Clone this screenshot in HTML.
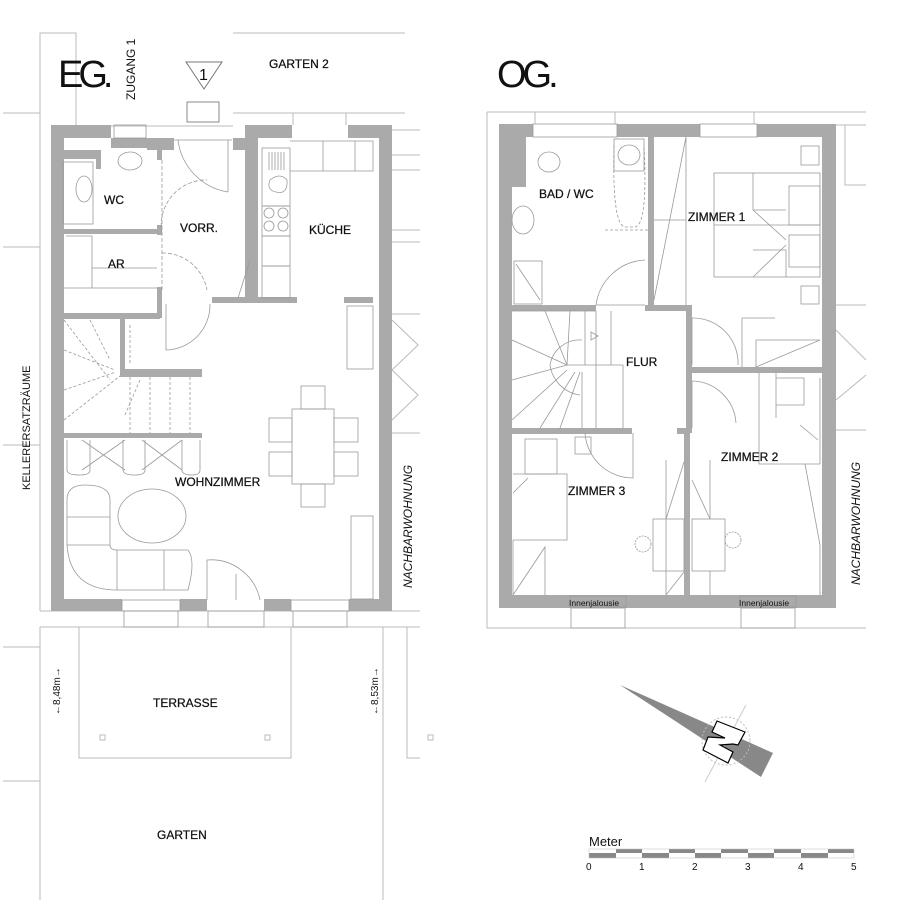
<!DOCTYPE html>
<html><head><meta charset="utf-8"><style>
html,body{margin:0;padding:0;background:#fff}
svg{display:block}
text{font-family:"Liberation Sans",sans-serif;fill:#111}
.l{font-size:12px;stroke:#111;stroke-width:0.25}
</style></head><body>
<svg width="900" height="900" viewBox="0 0 900 900" xmlns="http://www.w3.org/2000/svg">
<g fill="none" stroke="#bbb" stroke-width="1">
<path d="M40 110 V33 H76 V126 H233"/>
<path d="M233 33 H405 M233 113 H405 M3 113 H40 M293 113 V125 M346 113 V125"/>
<path d="M3 247 H40 M3 445 H40 M40 110 V611 M40 611 H420"/>
<path d="M40 627 V900 M383 627 V900 M3 647 H40 M3 781 H40 M40 771 V781"/>
<path d="M79 627 V758 H291 V627 M40 627 H420"/>
<path d="M407 627 V758 H420"/>
<rect x="100" y="735" width="5" height="5"/><rect x="265" y="735" width="5" height="5"/><rect x="428" y="735" width="5" height="5"/>
<path d="M392 130 H420 M392 155 H420 M392 170 H420 M392 230 H420 M392 242 H420 M392 314 H420 M392 433 H420"/>
<path d="M392 320 L418 345 L392 370 L418 395 L392 420"/>
<path d="M487 112 V628 H866 M487 112 H866 M535 112 V124 M615 112 V124 M754 112 V124"/>
<path d="M836 125 H866 M845 125 V185 H866 M836 305 H866 M836 430 H866 M836 330 L866 360 M836 400 L866 375"/>
</g>
<g fill="#aaa">
<rect x="51" y="125" width="13" height="486"/>
<rect x="51" y="599" width="71" height="12"/>
<rect x="180" y="599" width="27" height="12"/>
<rect x="264" y="599" width="27" height="12"/>
<rect x="349" y="599" width="43" height="12"/>
<rect x="379" y="125" width="13" height="486"/>
<rect x="51" y="125" width="60" height="13"/>
<rect x="111" y="138" width="36" height="10"/>
<rect x="147" y="138" width="27" height="12"/>
<rect x="233" y="138" width="14" height="12"/>
<rect x="245" y="125" width="47" height="13"/>
<rect x="348" y="125" width="44" height="13"/>
<rect x="245" y="125" width="13" height="173"/>
<rect x="64" y="150" width="37" height="9"/><rect x="96" y="150" width="5" height="19"/>
<rect x="64" y="229" width="96" height="5"/>
<rect x="157" y="150" width="5" height="10"/><rect x="157" y="225" width="5" height="10"/><rect x="157" y="287" width="5" height="15"/>
<rect x="64" y="313" width="96" height="6"/><rect x="157" y="298" width="5" height="20"/>
<rect x="212" y="297" width="85" height="6"/><rect x="344" y="297" width="29" height="6"/>
<rect x="120" y="319" width="5" height="55"/>
<rect x="120" y="369" width="82" height="8"/>
<rect x="64" y="433" width="138" height="5"/>
</g>
<g fill="none" stroke="#999" stroke-width="0.8">
<rect x="114" y="125" width="32" height="13"/>
<rect x="63" y="162" width="30" height="62"/>
<ellipse cx="84" cy="189" rx="8" ry="13"/><ellipse cx="130" cy="161" rx="12" ry="9"/>
<path d="M174 140 H232 M178 140 A60 60 0 0 0 228 192 M228 140 V192"/>
<path d="M162 233 A45 45 0 0 1 207 180 M162 253 A45 45 0 0 1 207 290 M162 160 V290" stroke-dasharray="4 2"/>
<path d="M66 236 H92 V288 H157 M92 268 H157 M64 288 H157"/>
<rect x="262" y="148" width="28" height="58"/><path d="M269 152 V170 M272 152 V170 M275 152 V170 M278 152 V170 M281 152 V170 M284 152 V170"/>
<path d="M270 180 Q280 172 287 180 Q288 195 276 192 Q266 190 270 180Z"/>
<rect x="262" y="206" width="28" height="30"/>
<circle cx="269" cy="213" r="5"/><circle cx="283" cy="213" r="5"/><circle cx="269" cy="226" r="5"/><circle cx="283" cy="226" r="5"/>
<rect x="262" y="236" width="28" height="30"/><rect x="262" y="266" width="28" height="32"/>
<path d="M290 141 H373 V171 H290 M323 141 V171 M355 141 V171"/>
<path d="M250 260 L238 298" />
<rect x="347" y="306" width="26" height="63"/>
<rect x="351" y="516" width="22" height="83"/>
<path d="M166 304 V350 A45 45 0 0 0 210 304" />
<path d="M207 600 V560 A50 50 0 0 1 260 600 M236 574 V600"/>
<rect x="122" y="600" width="58" height="11"/><rect x="291" y="600" width="58" height="11"/>
<rect x="124" y="611" width="54" height="16"/><rect x="293" y="611" width="54" height="16"/>
<rect x="208" y="611" width="56" height="16"/>
<rect x="292" y="409" width="42" height="75"/>
<rect x="301" y="386" width="24" height="23"/><rect x="301" y="484" width="24" height="23"/>
<rect x="269" y="418" width="23" height="24"/><rect x="269" y="452" width="23" height="24"/>
<rect x="334" y="418" width="24" height="24"/><rect x="334" y="452" width="24" height="24"/>
<path d="M67 440 V470 Q67 475 80 475 Q90 475 90 470 V440 M123 440 V470 Q123 475 135 475 Q145 475 145 470 V440 M182 440 V470 Q182 475 192 475 Q200 475 200 470 V440 M82 440 L125 470 M82 470 L125 440 M142 440 L182 470 M142 470 L182 440"/>
<ellipse cx="152" cy="516" rx="34" ry="27"/>
<path d="M67 500 Q67 485 85 485 Q110 485 110 500 V545 Q110 550 117 550 H188 Q196 560 188 590 H117 Q70 590 67 545 Z M67 517 H110 M67 545 H110 M117 550 V590 M164 550 V590"/>
<path d="M64 320 L110 380 M64 350 L115 370 M64 390 L116 372 M64 420 L120 376 M90 320 L110 360 M130 325 V365 M130 377 V433 M150 377 V433 M170 377 V433 M190 377 V433 M125 415 L140 380" stroke-dasharray="3 2"/>
</g>
<g fill="#aaa">
<rect x="499" y="124" width="13" height="484"/>
<rect x="822" y="124" width="14" height="484"/>
<rect x="499" y="124" width="34" height="13"/><rect x="617" y="124" width="83" height="13"/><rect x="757" y="124" width="79" height="13"/>
<rect x="499" y="595" width="337" height="13"/>
<rect x="512" y="137" width="14" height="50"/>
<rect x="648" y="137" width="6" height="168"/>
<rect x="512" y="305" width="84" height="6"/><rect x="645" y="305" width="47" height="6"/>
<rect x="686" y="305" width="6" height="128"/>
<rect x="692" y="367" width="135" height="6"/>
<rect x="512" y="428" width="120" height="6"/><rect x="677" y="428" width="13" height="6"/>
<rect x="684" y="433" width="6" height="162"/>
</g>
<g fill="none" stroke="#999" stroke-width="0.8">
<rect x="533" y="124" width="84" height="13"/><rect x="700" y="124" width="57" height="13"/>
<rect x="570" y="596" width="56" height="11"/><rect x="740" y="596" width="56" height="11"/>
<rect x="571" y="608" width="54" height="20"/><rect x="741" y="608" width="54" height="20"/>
<ellipse cx="549" cy="162" rx="11" ry="10"/>
<rect x="614" y="139" width="30" height="32"/><ellipse cx="629" cy="155" rx="11" ry="10"/>
<path d="M614 145 Q612 225 625 227 H635 Q648 225 644 145" stroke-dasharray="3 2"/>
<path d="M605 230 H648" stroke-dasharray="3 2"/>
<ellipse cx="523" cy="220" rx="11" ry="14"/>
<rect x="514" y="261" width="28" height="43"/><path d="M516 264 L540 300"/>
<path d="M596 305 A52 52 0 0 1 645 260 M596 305 H645"/>
<path d="M654 300 L686 137 M654 220 H686 M686 137 V305"/>
<rect x="714" y="173" width="106" height="104"/><path d="M714 225 H820 M753 173 V210 H786 M753 210 L786 240 M753 250 H786 V277 M753 277 L786 245"/>
<rect x="789" y="186" width="31" height="39"/><rect x="789" y="235" width="31" height="32"/>
<rect x="801" y="146" width="18" height="19"/><rect x="801" y="286" width="18" height="18"/>
<path d="M742 367 V318 H775 M756 367 V340 H820 M756 367 L820 340"/>
<path d="M692 318 A45 45 0 0 1 738 365 M692 381 A45 45 0 0 1 736 423"/>
<path d="M692 318 V365 M692 381 V428"/>
<path d="M512 311 H596 M596 311 V428 M567 365 H623 V428 M611 365 V311 M512 340 L567 365 M512 380 L567 365 M512 420 L567 370 M545 311 L567 365 M570 311 L567 365 M585 311 L585 365 M540 428 L575 372 M560 428 L580 372 M582 428 V372"/>
<path d="M582 340 A30 30 0 0 0 550 365 A35 35 0 0 0 580 395"/>
<path d="M591 340 L598 336 L591 332Z"/>
<rect x="525" y="439" width="32" height="35"/><rect x="575" y="437" width="16" height="17"/>
<path d="M513 474 H567 V540 H513 M513 493 L528 478 M513 540 V595 M513 595 L545 547 V595"/>
<path d="M633 433 V478 A48 48 0 0 1 585 433"/>
<rect x="653" y="519" width="31" height="52"/><rect x="692" y="519" width="33" height="52"/>
<path d="M666 460 V595 M666 519 L684 462 M666 595 L684 572 M710 460 V519 L692 480 M710 571 V595"/>
<path d="M759 373 V464 H820 V378 M776 373 V418 M776 378 H804 V405 H776 M800 425 L818 440 M805 464 L820 545 V595"/>
<circle cx="643" cy="544" r="8" stroke-dasharray="2 1"/><circle cx="733" cy="540" r="8" stroke-dasharray="2 1"/>
</g>
<polygon points="620,685 773,753 761,777" fill="#888"/>
<circle cx="726" cy="741" r="24" fill="none" stroke="#bbb" stroke-dasharray="2 2"/>
<path d="M746 705 L705 782" stroke="#ccc"/>
<path d="M717 721 L745 732 L738 745 L733 744 L720 745 L733 752 L728 763 L703 750 L708 737 L725 738 L712 732Z" fill="#fff" stroke="#000" stroke-width="1.2"/>
<g fill="#888">
<rect x="589" y="853" width="27" height="5"/><rect x="616" y="849" width="26" height="4"/>
<rect x="642" y="853" width="27" height="5"/><rect x="669" y="849" width="26" height="4"/>
<rect x="695" y="853" width="26" height="5"/><rect x="721" y="849" width="27" height="4"/>
<rect x="748" y="853" width="26" height="5"/><rect x="774" y="849" width="27" height="4"/>
<rect x="801" y="853" width="27" height="5"/><rect x="828" y="849" width="26" height="4"/>
</g>
<rect x="589" y="849" width="265" height="9" fill="none" stroke="#bbb" stroke-width="0.5"/>
<text x="589" y="846" font-size="13">Meter</text>
<g font-size="10"><text x="586" y="870">0</text><text x="639" y="870">1</text><text x="692" y="870">2</text><text x="745" y="870">3</text><text x="798" y="870">4</text><text x="851" y="870">5</text></g>
<polygon points="186,62 222,62 204,89" fill="none" stroke="#777"/>
<text x="199" y="80" font-size="16">1</text>
<rect x="187" y="102" width="32" height="20" fill="none" stroke="#888"/>
<text x="58" y="87" font-size="38" letter-spacing="-5">EG.</text>
<text x="497" y="87" font-size="38" letter-spacing="-4">OG.</text>
<text transform="translate(135,100) rotate(-90)" font-size="12">ZUGANG 1</text>
<text x="269" y="68" class="l">GARTEN 2</text>
<g class="l">
<text x="104" y="204">WC</text>
<text x="180" y="232">VORR.</text>
<text x="309" y="234">KÜCHE</text>
<text x="108" y="268">AR</text>
<text x="175" y="486">WOHNZIMMER</text>
<text x="153" y="707">TERRASSE</text>
<text x="157" y="839">GARTEN</text>
<text x="539" y="198">BAD / WC</text>
<text x="688" y="221">ZIMMER 1</text>
<text x="626" y="366">FLUR</text>
<text x="721" y="461">ZIMMER 2</text>
<text x="568" y="495">ZIMMER 3</text>
</g>
<text transform="translate(30,490) rotate(-90)" font-size="11">KELLERERSATZRÄUME</text>
<text transform="translate(412,588) rotate(-90)" font-size="12" font-style="italic">NACHBARWOHNUNG</text>
<text transform="translate(860,585) rotate(-90)" font-size="12" font-style="italic">NACHBARWOHNUNG</text>
<text transform="translate(60,715) rotate(-90)" font-size="10">←8,48m→</text>
<text transform="translate(378,715) rotate(-90)" font-size="10">←8,53m→</text>
<text x="569" y="606" font-size="8.5">Innenjalousie</text>
<text x="739" y="606" font-size="8.5">Innenjalousie</text>
</svg>
</body></html>
